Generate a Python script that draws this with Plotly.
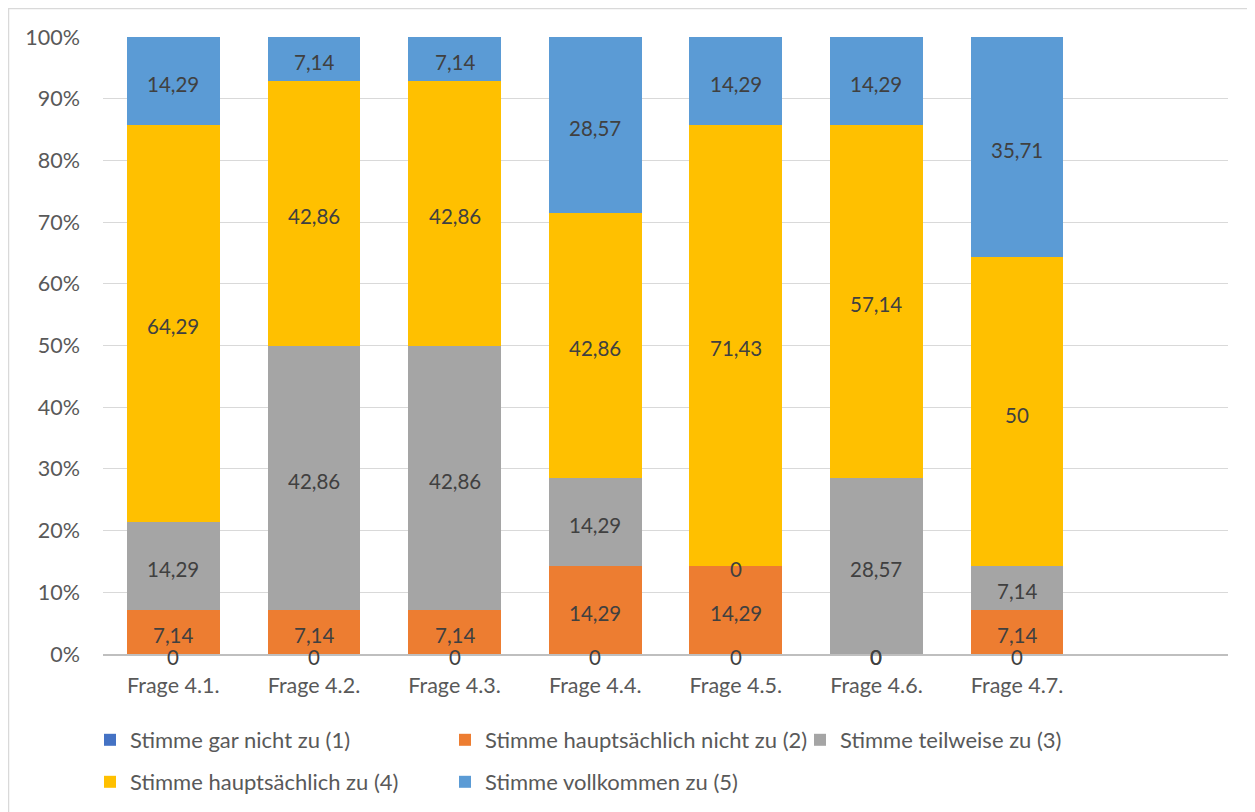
import plotly.graph_objects as go

categories = ["Frage 4.1.", "Frage 4.2.", "Frage 4.3.", "Frage 4.4.", "Frage 4.5.", "Frage 4.6.", "Frage 4.7."]
series_names = [
    "Stimme gar nicht zu (1)",
    "Stimme hauptsächlich nicht zu (2)",
    "Stimme teilweise zu (3)",
    "Stimme hauptsächlich zu (4)",
    "Stimme vollkommen zu (5)",
]
s1 = [0, 0, 0, 0, 0, 0, 0]
s2 = [7.14, 7.14, 7.14, 14.29, 14.29, 0, 7.14]
s3 = [14.29, 42.86, 42.86, 14.29, 0, 28.57, 7.14]
s4 = [64.29, 42.86, 42.86, 42.86, 71.43, 57.14, 50]
s5 = [14.29, 7.14, 7.14, 28.57, 14.29, 14.29, 35.71]
series_values = [s1, s2, s3, s4, s5]
colors = ["#4472C4", "#ED7D31", "#A5A5A5", "#FFC000", "#5B9BD5"]

FONT = "Lato"
FS_TICK = 21.5
FS_LAB = 20.5
FS_LEG = 22

def fmt(v):
    if float(v).is_integer():
        return str(int(v))
    return f"{v:.2f}".replace(".", ",")

fig = go.Figure()
legend_ids = ["legend", "legend", "legend", "legend2", "legend2"]
for name, vals, col, lg in zip(series_names, series_values, colors, legend_ids):
    fig.add_trace(go.Bar(
        x=categories, y=vals, name=name, marker=dict(color=col, line=dict(width=0)),
        hoverinfo="skip", legend=lg,
    ))

# data labels (centered in each segment, including zero-height ones)
annotations = []
base = [0.0] * len(categories)
for vals in series_values:
    for i, v in enumerate(vals):
        annotations.append(dict(
            x=categories[i], y=base[i] + v / 2, xref="x", yref="y",
            text=fmt(v), showarrow=False, yshift=-3,
            font=dict(family=FONT, size=FS_LAB, color="#404040"),
        ))
        base[i] += v

# page is offset by the 8px body margin
OFF = 8
W, H = 1255 - OFF, 812 - OFF
ml = 103 - OFF
mt = 37 - OFF
mr = W - (1228 - OFF)
mb = H - (654 - OFF)
pw, ph = W - ml - mr, H - mt - mb

def px(x):
    return (x - OFF - ml) / pw

def py(y):
    return (H - mb - (y - OFF)) / ph

leg_common = dict(
    orientation="h", xanchor="left", yanchor="middle",
    entrywidth=310, entrywidthmode="pixels", traceorder="normal",
    font=dict(family=FONT, size=FS_LEG, color="#595959"), bgcolor="rgba(0,0,0,0)",
)

fig.update_layout(
    width=W, height=H,
    margin=dict(l=ml, r=mr, t=mt, b=mb, autoexpand=False),
    barmode="stack", bargap=0.34,
    paper_bgcolor="white", plot_bgcolor="white",
    font=dict(family=FONT, size=FS_TICK, color="#595959"),
    xaxis=dict(
        type="category", categoryorder="array", categoryarray=categories,
        range=[-0.5, 7.5], showgrid=False, showline=True, linecolor="#BFBFBF",
        linewidth=1.5, ticks="", ticklabelstandoff=11,
        tickfont=dict(family=FONT, size=FS_TICK, color="#595959"),
    ),
    yaxis=dict(
        range=[0, 100], dtick=10, ticksuffix="%", showgrid=True, gridcolor="#D9D9D9",
        gridwidth=1, zeroline=False, showline=False, ticks="", ticklabelstandoff=22,
        tickfont=dict(family=FONT, size=FS_TICK, color="#595959"),
    ),
    legend=dict(x=px(90), y=py(740), **leg_common),
    legend2=dict(x=px(90), y=py(782), **leg_common),
    annotations=annotations,
    shapes=[dict(
        type="rect", xref="paper", yref="paper",
        x0=px(8.5), x1=px(1270), y0=py(830), y1=py(8.5),
        line=dict(color="#D9D9D9", width=1.5), fillcolor="rgba(0,0,0,0)", layer="below",
    )],
)

fig.write_html("out.html")
